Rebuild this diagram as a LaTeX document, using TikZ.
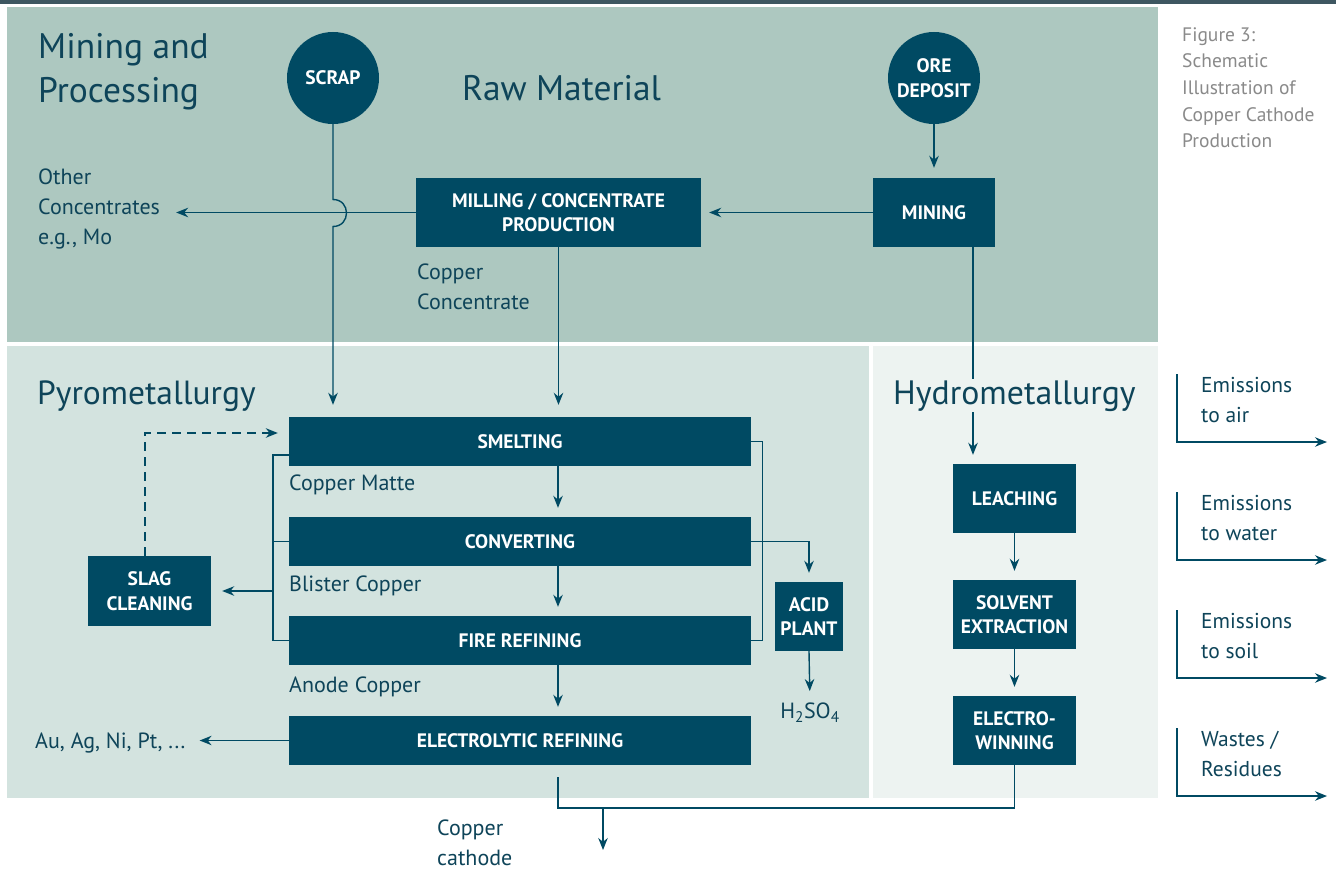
\documentclass[tikz,border=0pt]{standalone}
\usepackage{fontspec}
\setmainfont{PT Sans}
\usetikzlibrary{arrows.meta,calc}
\definecolor{dk}{HTML}{004A63}
\definecolor{txt}{HTML}{0E4459}
\definecolor{bgtop}{HTML}{ADC8C0}
\definecolor{bgpyro}{HTML}{D3E3DF}
\definecolor{bghydro}{HTML}{EDF3F1}
\definecolor{capgray}{HTML}{8A8A8A}
\definecolor{strip}{HTML}{3E5761}
\tikzset{
  proc/.style={fill=dk, text=white, inner sep=0pt, align=center,
    font=\bfseries\fontsize{19.5}{24.5}\selectfont},
  circ/.style={circle, fill=dk, text=white, inner sep=0pt, minimum size=92pt, align=center,
    font=\bfseries\fontsize{19.5}{24.5}\selectfont},
  lbl/.style={text=txt, inner sep=0pt, align=left, font=\fontsize{22}{30}\selectfont},
  ttl/.style={text=txt, inner sep=0pt, align=left, font=\fontsize{35.5}{44}\selectfont},
  conn/.style={draw=dk, line width=1.4pt},
  arr/.style={conn, -{Stealth[length=12pt,width=9.5pt]}},
}
\begin{document}
\begin{tikzpicture}[x=1pt,y=-1pt]
\useasboundingbox (0,0) rectangle (1336,869);
% backgrounds
\fill[white] (0,0) rectangle (1336,869);
\fill[strip] (0,0) rectangle (1336,4);
\fill[bgtop] (7,7) rectangle (1158,342);
\fill[bgpyro] (7,346) rectangle (869,798);
\fill[bghydro] (873,346) rectangle (1158,798);

% titles
\node[ttl, anchor=west] (tmining) at (38,72) {Mining and\\Processing};
\node[ttl, anchor=base west] (traw) at (462,101) {Raw Material};
\node[ttl, font=\fontsize{33.5}{40}\selectfont, anchor=base west] (tpyro) at (37,404) {Pyrometallurgy};

% caption
\node[text=capgray, inner sep=0pt, align=left, anchor=north west,
      font=\fontsize{19.5}{26.7}\selectfont] (caption) at (1182,27)
  {Figure 3:\\Schematic\\Illustration of\\Copper Cathode\\Production};

% raw material nodes
\node[circ] (scrap) at (333,78) {SCRAP};
\node[circ] (ore) at (934,78) {ORE\\DEPOSIT};
\node[proc, minimum width=122pt, minimum height=69pt] (mining) at (934,212.5) {MINING};
\node[proc, minimum width=285pt, minimum height=69pt] (milling) at (558.5,212.5) {MILLING / CONCENTRATE\\PRODUCTION};
\node[lbl, anchor=west] (other) at (38,209) {Other\\Concentrates\\e.g., Mo};
\node[lbl, anchor=west] (cuconc) at (417,287) {Copper\\Concentrate};

% pyrometallurgy nodes
\node[proc, minimum width=462pt, minimum height=49pt] (smelt) at (520,441.5) {SMELTING};
\node[proc, minimum width=462pt, minimum height=49pt] (conv) at (520,541.5) {CONVERTING};
\node[proc, minimum width=462pt, minimum height=49pt] (fire) at (520,640.5) {FIRE REFINING};
\node[proc, minimum width=462pt, minimum height=49pt] (elec) at (520,740.5) {ELECTROLYTIC REFINING};
\node[proc, minimum width=123pt, minimum height=70pt] (slag) at (149.5,591) {SLAG\\CLEANING};
\node[proc, minimum width=68pt, minimum height=69pt] (acid) at (809,616.5) {ACID\\PLANT};
\node[lbl, anchor=west] (matte) at (289,485) {Copper Matte};
\node[lbl, anchor=west] (blister) at (289,586) {Blister Copper};
\node[lbl, anchor=west] (anode) at (289,687) {Anode Copper};
\node[lbl, anchor=west] (au) at (35,743) {Au, Ag, Ni, Pt, ...};
\node[lbl, anchor=center] (h2so4) at (810,713) {H\textsubscript{2}SO\textsubscript{4}};
\node[lbl, anchor=west] (cathode) at (437,843) {Copper\\cathode};

% hydrometallurgy nodes
\node[proc, minimum width=123pt, minimum height=69pt] (leach) at (1014.5,498.5) {LEACHING};
\node[proc, minimum width=123pt, minimum height=69pt] (solv) at (1014.5,614.5) {SOLVENT\\EXTRACTION};
\node[proc, minimum width=123pt, minimum height=69pt] (ew) at (1014.5,730.5) {ELECTRO-\\WINNING};

% connectors, top
\draw[arr, shorten >=10pt] (ore.south) -- (mining.north);
\draw[arr, shorten >=8pt] (mining.west) -- (milling.east);
\draw[arr, shorten >=16pt] (milling.west) -- (milling.west -| other.east);
\draw[arr, shorten >=12pt] (scrap.south) -- (333,199.5)
   .. controls (351,199.5) and (351,226.5) .. (333,226.5)
   -- (scrap.south |- smelt.north);
\draw[arr, shorten >=12pt] (milling.south) -- (milling.south |- smelt.north);
\draw[arr, shorten >=9pt] (mining.south -| 973,0) -- (leach.north -| 973,0);
\node[text=txt, inner sep=1pt, fill=bghydro, anchor=base west,
      font=\fontsize{33.8}{40}\selectfont] (thydro) at (892,404) {Hydrometallurgy};

% pyro connectors
\draw[arr, shorten >=9pt] (smelt.south -| 558,0) -- (conv.north -| 558,0);
\draw[arr, shorten >=9pt] (conv.south -| 558,0) -- (fire.north -| 558,0);
\draw[arr, shorten >=9pt] (fire.south -| 558,0) -- (elec.north -| 558,0);
\draw[conn] ([yshift=-13.5pt]smelt.west) -- ++(-16,0) |- (fire.west);
\draw[conn] (conv.west) -- ++(-16,0);
\draw[arr, shorten >=11pt] ($(conv.west)!0.5!(fire.west)$) ++(-16,0) -- (slag.east);
\draw[conn] (smelt.east) -- ++(11,0) |- (fire.east);
\draw[arr, shorten >=9pt] (conv.east) -| (acid.north);
\draw[arr, shorten >=12pt] (acid.south) -- (h2so4.north);
\draw[arr, dash pattern=on 9pt off 6pt, shorten >=11pt] (slag.north -| 145,0) |- ([yshift=8.5pt]smelt.west);
\draw[arr, shorten >=14pt] (elec.west) -- (elec.west -| au.east);

% hydro connectors
\draw[arr, shorten >=9pt] (leach.south) -- (solv.north);
\draw[arr, shorten >=9pt] (solv.south) -- (ew.north);
\coordinate (join) at (603,808);
\coordinate (elecout) at ([yshift=-12pt]elec.south -| 558,0);
\draw[conn] (ew.south) |- (join) -- (join -| elecout) -- (elecout);
\draw[arr] (join) -- (603,850);

% emissions legend
\foreach \i/\t/\ya in {1/{Emissions\\to air}/374, 2/{Emissions\\to water}/492, 3/{Emissions\\to soil}/610, 4/{Wastes /\\Residues}/728}{
  \node[lbl, anchor=north west, font=\fontsize{21.5}{30}\selectfont] (em\i) at (1201,\ya+3) {\t};
  \coordinate (ea\i) at (1177,\ya);
  \coordinate (eb\i) at (1327,\ya+68);
  \draw[arr] (ea\i) |- (eb\i);
}
\end{tikzpicture}
\end{document}
